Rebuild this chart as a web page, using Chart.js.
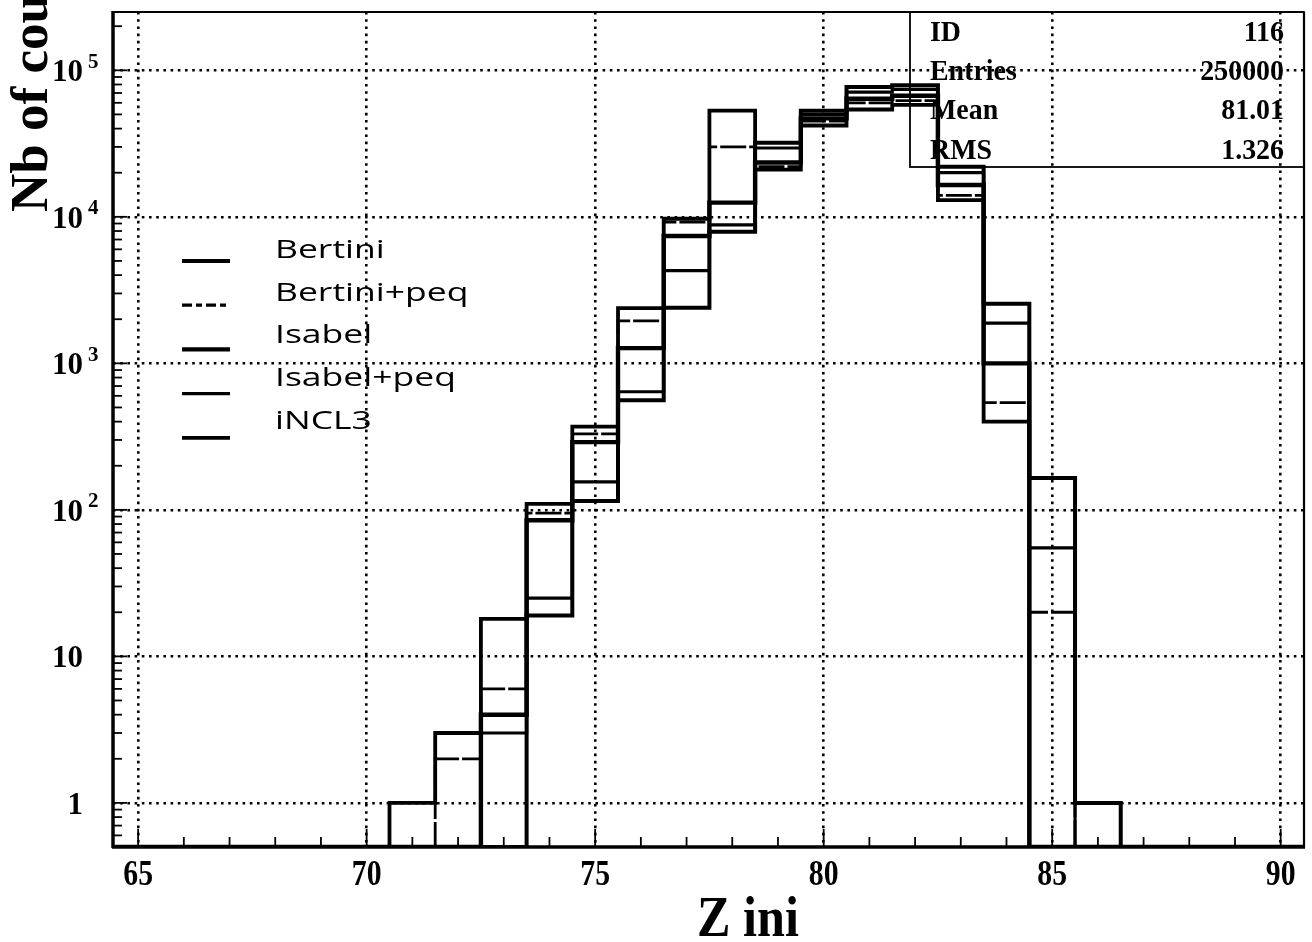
<!DOCTYPE html>
<html>
<head>
<meta charset="utf-8">
<title>Z ini</title>
<script src="https://cdn.jsdelivr.net/npm/chart.js@4.4.1/dist/chart.umd.min.js"></script>
<style>
  html, body { margin: 0; padding: 0; background: #ffffff; }
  #wrap { width: 1312px; height: 942px; position: relative; }
</style>
</head>
<body>
<div id="wrap"><canvas id="histo" width="1312" height="942"></canvas></div>
<script>
// Initial charge Z: one bin per integer value
const zBins = [65, 66, 67, 68, 69, 70, 71, 72, 73, 74, 75, 76, 77, 78, 79, 80, 81, 82, 83, 84, 85, 86, 87, 88, 89, 90];

// Counts per bin for each intranuclear-cascade model
const bertini    = [0, 0, 0, 0, 0, 0, 0, 0, 0, 19, 115, 560, 2400, 7900, 32000, 53000, 77000, 79000, 22000, 2550, 165, 1, 0, 0, 0, 0];
const bertiniPeq = [0, 0, 0, 0, 0, 0, 0, 2, 6, 95, 330, 1950, 9200, 30000, 22000, 45000, 60000, 62000, 14000, 540, 20, 0, 0, 0, 0, 0];
const isabel     = [0, 0, 0, 0, 0, 0, 0, 0, 4, 85, 290, 1270, 7400, 12500, 23500, 47000, 64000, 67000, 16500, 1000, 0, 0, 0, 0, 0, 0];
const isabelPeq  = [0, 0, 0, 0, 0, 0, 0, 0, 3, 25, 155, 640, 4300, 8800, 29500, 50000, 71000, 74000, 20000, 1880, 55, 0, 0, 0, 0, 0];
const incl3      = [0, 0, 0, 0, 0, 0, 1, 3, 18, 110, 370, 2380, 9700, 53000, 21000, 42000, 54000, 58000, 13000, 400, 0, 0, 0, 0, 0, 0];

const modelNames = ['Bertini', 'Bertini+peq', 'Isabel', 'Isabel+peq', 'iNCL3'];

// Axis ticks
const xTicks = [65, 70, 75, 80, 85, 90];
const yDecades = [1, 10, 100, 1000, 10000, 100000];

// Statistics box
const statLabels = ['ID', 'Entries', 'Mean', 'RMS'];
const statValues = ['116', '250000', '81.01', '1.326'];

const INK = '#000000';
const Y_MIN = 0.5, Y_MAX = 2.5e5;
const X_MIN = 64.45, X_MAX = 90.51;

// Histogram outline: one point at each bin's lower edge, closing at the last upper edge.
function outline(values) {
  const pts = zBins.map((z, i) => ({ x: z - 0.5, y: Math.max(values[i], Y_MIN) }));
  pts.push({ x: zBins[zBins.length - 1] + 0.5, y: Y_MIN });
  return pts;
}

function histDataset(label, values, width, dash) {
  return {
    label,
    data: outline(values),
    stepped: true,
    borderColor: INK,
    borderWidth: width,
    borderDash: dash,
    borderJoinStyle: 'miter',
    borderCapStyle: 'butt',
    pointRadius: 0,
    fill: false,
    tension: 0
  };
}

const datasets = [
  histDataset(modelNames[0], bertini, 4.0, []),
  histDataset(modelNames[1], bertiniPeq, 2.8, [26, 3]),
  histDataset(modelNames[2], isabel, 4.4, []),
  histDataset(modelNames[3], isabelPeq, 3.2, []),
  histDataset(modelNames[4], incl3, 3.8, [])
];

function hLine(ctx, x1, y1, x2, y2, w) {
  ctx.lineWidth = w;
  ctx.beginPath();
  ctx.moveTo(x1, y1);
  ctx.lineTo(x2, y2);
  ctx.stroke();
}

// Text squeezed or stretched horizontally around its anchor
function drawText(ctx, str, x, y, font, align, scaleX) {
  ctx.save();
  ctx.font = font;
  ctx.textAlign = align;
  ctx.translate(x, y);
  ctx.scale(scaleX, 1);
  ctx.fillText(str, 0, 0);
  ctx.restore();
}

// Frame, inner tick marks, axis labels, legend and statistics box
const pawDecor = {
  id: 'pawDecor',
  afterDatasetsDraw(chart) {
    const { ctx, chartArea: a, scales: { x, y } } = chart;
    ctx.save();
    ctx.strokeStyle = INK;
    ctx.fillStyle = INK;
    ctx.lineCap = 'butt';

    // x tick marks at every integer, longer every 5
    for (let z = Math.ceil(X_MIN); z <= X_MAX; z++) {
      const px = x.getPixelForValue(z);
      const len = z % 5 === 0 ? 18 : 10;
      hLine(ctx, px, a.bottom, px, a.bottom - len, 1.8);
    }
    // y tick marks: decades long, 2..9 short
    for (let d = -1; d <= 5; d++) {
      for (let m = 1; m <= 9; m++) {
        const v = m * Math.pow(10, d);
        if (v < Y_MIN || v > Y_MAX) continue;
        const py = y.getPixelForValue(v);
        const len = m === 1 ? 14 : 9;
        hLine(ctx, a.left, py, a.left + len, py, 1.8);
      }
    }

    // frame
    hLine(ctx, a.left, a.top, a.right, a.top, 2.2);
    hLine(ctx, a.right, a.top, a.right, a.bottom, 2.2);
    hLine(ctx, a.left - 1, a.bottom, a.right + 1, a.bottom, 3.5);
    hLine(ctx, a.left, a.top - 1, a.left, a.bottom + 1, 3.5);

    // statistics box
    const boxLeft = 910, boxBottom = 167;
    ctx.lineWidth = 1.8;
    ctx.strokeRect(boxLeft, a.top, a.right - boxLeft, boxBottom - a.top);
    ctx.textBaseline = 'middle';
    statLabels.forEach((lab, i) => {
      const ty = 33 + i * 39.3;
      drawText(ctx, lab, 930, ty, 'bold 30px "Liberation Serif"', 'left', 0.93);
      drawText(ctx, statValues[i], 1284, ty, 'bold 30px "Liberation Serif"', 'right', 0.93);
    });

    // legend
    chart.data.datasets.forEach((ds, i) => {
      const ly = 261 + i * 44.2;
      ctx.save();
      ctx.setLineDash(ds.borderDash && ds.borderDash.length ? [10, 4, 6, 4] : []);
      hLine(ctx, 182, ly, 230, ly, Math.max(ds.borderWidth, 3.2));
      ctx.restore();
      ctx.textBaseline = 'middle';
      drawText(ctx, ds.label, 275, 251 + i * 42.6, '400 25px "Open Sans"', 'left', 1.42);
    });

    // x tick labels
    ctx.textBaseline = 'middle';
    xTicks.forEach(v => {
      drawText(ctx, String(v), x.getPixelForValue(v), 876, 'bold 35px "Liberation Serif"', 'center', 0.85);
    });

    // y tick labels with exponent
    yDecades.forEach(v => {
      const py = y.getPixelForValue(v) + 3;
      const e = Math.round(Math.log10(v));
      if (e === 0) {
        drawText(ctx, '1', 83, py, 'bold 31px "Liberation Serif"', 'right', 1);
      } else {
        drawText(ctx, '10', 83, py, 'bold 31px "Liberation Serif"', 'right', 1);
        if (e > 1) drawText(ctx, String(e), 88, py - 11, 'bold 21px "Liberation Serif"', 'left', 1);
      }
    });

    // axis titles
    ctx.textBaseline = 'alphabetic';
    drawText(ctx, 'Z ini', 748, 936, 'bold 57px "Liberation Serif"', 'center', 0.88);
    ctx.save();
    ctx.translate(47, 212);
    ctx.rotate(-Math.PI / 2);
    ctx.font = 'bold 53px "Liberation Serif"';
    ctx.textAlign = 'left';
    ctx.fillText('Nb of counts', 0, 0);
    ctx.restore();

    ctx.restore();
  }
};

new Chart(document.getElementById('histo'), {
  type: 'line',
  data: { datasets },
  options: {
    responsive: false,
    animation: false,
    devicePixelRatio: 1,
    layout: { padding: { left: 113, top: 12, right: 8, bottom: 95 } },
    plugins: { legend: { display: false }, tooltip: { enabled: false } },
    scales: {
      x: {
        type: 'linear',
        min: X_MIN,
        max: X_MAX,
        afterBuildTicks: s => { s.ticks = xTicks.map(v => ({ value: v })); },
        ticks: { display: false },
        grid: { color: INK, lineWidth: 2.6, drawTicks: false },
        border: { display: false, dash: [2.6, 4.6] }
      },
      y: {
        type: 'logarithmic',
        min: Y_MIN,
        max: Y_MAX,
        afterBuildTicks: s => { s.ticks = yDecades.map(v => ({ value: v })); },
        ticks: { display: false },
        grid: { color: INK, lineWidth: 2.6, drawTicks: false },
        border: { display: false, dash: [2.6, 4.6] }
      }
    }
  },
  plugins: [pawDecor]
});
</script>
</body>
</html>
